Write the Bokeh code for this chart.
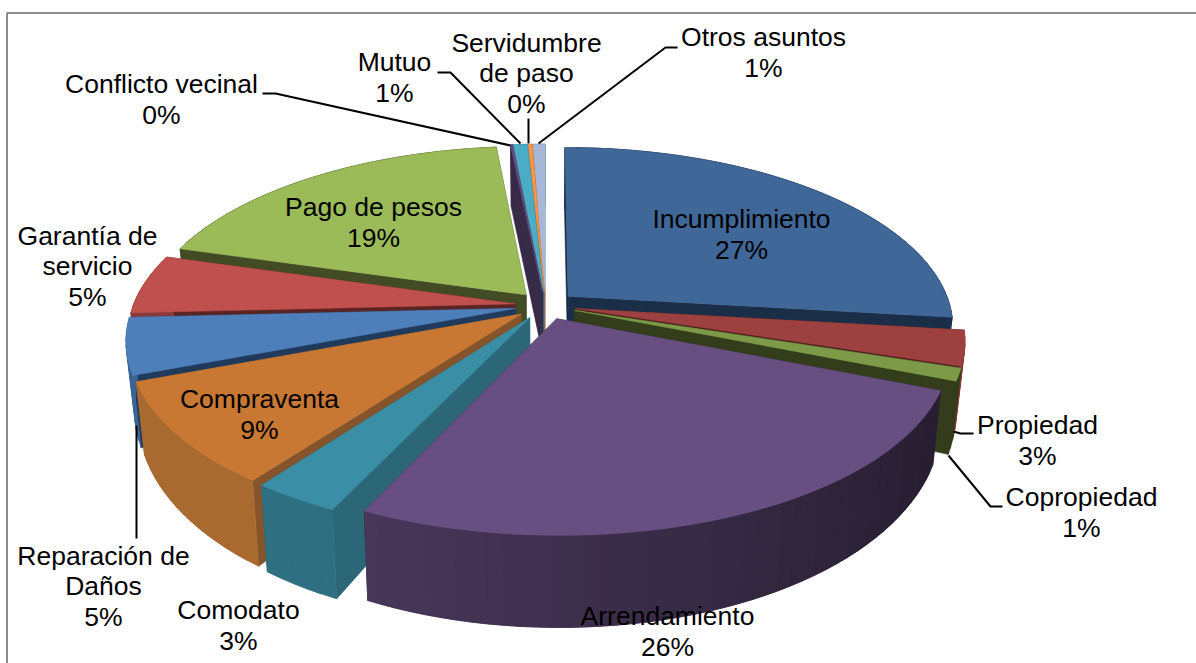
import math
from bokeh.plotting import figure
from bokeh.models import ColumnDataSource, Range1d
from bokeh.core.properties import value
from bokeh.embed import file_html
from bokeh.resources import INLINE

names = ["Incumplimiento", "Propiedad", "Copropiedad", "Arrendamiento", "Comodato", "Compraventa",
         "Reparación de\nDaños", "Garantía de\nservicio", "Pago de pesos", "Conflicto vecinal",
         "Mutuo", "Servidumbre\nde paso", "Otros asuntos"]
values = [26.9, 3.1, 1.1, 25.9, 3.1, 9.1, 5.0, 5.3, 18.9, 0.1, 0.7, 0.2, 0.6]
pct_labels = ["27%", "3%", "1%", "26%", "3%", "9%", "5%", "5%", "19%", "0%", "1%", "0%", "1%"]
top_colors = ["#3F6797", "#9C413F", "#7C9A47", "#684F82", "#3A8EA5", "#C87833",
              "#4F7FBB", "#BF504E", "#9BBB59", "#6A4F87", "#4BACC6", "#F79646", "#A7B8D8"]
radial_colors = ["#1A2E48", "#4F1F1E", "#333D1B", "#382B48", "#2C6778", "#85542A",
                 "#203A5C", "#5A2423", "#424B24", "#382B48", "#2C6778", "#A56530", "#6F7B90"]
arc_colors = ["#1A2E48", "#8A3533", "#333D1B", "#4B3A5E", "#2F6F82", "#A96A30",
              "#3A6496", "#8A3A38", "#424B24", "#382B48", "#2C6778", "#A56530", "#6F7B90"]
arc_fade = [0, 0, 0, 0.32, 0, 0, 0, 0, 0, 0, 0, 0, 0]
label_x = [741, 1037, 1081, 667, 238, 259, 103, 87, 373, 161, 394, 526, 763]
label_y = [234, 440, 512, 631, 625, 414, 586, 266, 222, 99, 77, 73, 52]

leaders = [
    ([262, 275, 510], [93, 93, 145]),
    ([437, 450, 520], [72, 72, 143]),
    ([528, 528], [118, 143]),
    ([677, 665, 538], [47, 47, 143]),
    ([973, 960, 953], [433, 433, 431]),
    ([1002, 990, 948], [506, 506, 455]),
    ([136, 136], [425, 538]),
]

CX, CY, RX, RY, KX, KY, EXPL = 545, 305, 382, 176, 0.168, 0.165, 0.08


def top_pt(X, Y):
    return CX + RX * X / (1 + KX * Y), CY - RY * Y / (1 + KY * Y)


def bot_pt(X, Y):
    x, y = top_pt(X, Y)
    return CX + (x - CX) * 0.98, y + 62 + 28 * max(0, -Y)


def shade(color, f):
    r, g, b = [int(color[i:i + 2], 16) for i in (1, 3, 5)]
    return "#%02X%02X%02X" % (int(r * f), int(g * f), int(b * f))


total = sum(values)
slices = []
cum = 0.0
for i, v in enumerate(values):
    a0 = cum / total * 2 * math.pi
    cum += v
    a1 = cum / total * 2 * math.pi
    mid = (a0 + a1) / 2
    slices.append((math.cos(mid), i, a0, a1, mid))

xs, ys, fills = [], [], []


def add(pts, color):
    xs.append([q[0] for q in pts])
    ys.append([q[1] for q in pts])
    fills.append(color)


for _, i, a0, a1, mid in sorted(slices, key=lambda t: -t[0]):
    ax, ay = EXPL * math.sin(mid), EXPL * math.cos(mid)
    steps = max(2, int((a1 - a0) / math.radians(2)))
    arc = [(ax + math.sin(a0 + (a1 - a0) * j / steps), ay + math.cos(a0 + (a1 - a0) * j / steps))
           for j in range(steps + 1)]
    # radial side faces
    for e in (arc[0], arc[-1]):
        add([top_pt(*e), top_pt(ax, ay), bot_pt(ax, ay), bot_pt(*e)], radial_colors[i])
    # outer side, each band overlapping the next so that no seam shows
    for j in range(steps):
        band = arc[j:j + 3]
        f = 1 - arc_fade[i] * max(0, arc[j][0] + 0.5)
        add([top_pt(*q) for q in band] + [bot_pt(*q) for q in reversed(band)], shade(arc_colors[i], f))
    # top
    add([top_pt(ax, ay)] + [top_pt(*q) for q in arc], top_colors[i])

W, H = 1196, 663
p = figure(width=W, height=H, x_range=Range1d(0, W), y_range=Range1d(H, 0),
           output_backend="svg", toolbar_location=None, min_border=0)
p.axis.visible = False
p.grid.visible = False
p.outline_line_color = None
p.background_fill_color = "white"

p.patches("xs", "ys", source=ColumnDataSource(dict(xs=xs, ys=ys, c=fills)),
          fill_color="c", line_color="c", line_width=0.6)

p.line([1196, 6.5, 6.5], [12.5, 12.5, 663], line_color="#8C8C8C", line_width=2)

for lx, ly in leaders:
    p.line(lx, ly, line_color="black", line_width=2)

p.text(label_x, label_y, text=[f"{n}\n{t}" for n, t in zip(names, pct_labels)],
       text_font=value("Liberation Sans"), text_font_size="26.5px", text_color="black",
       text_align="center", text_baseline="middle", text_line_height=1.03)

open("out.html", "w").write(file_html(p, INLINE))
